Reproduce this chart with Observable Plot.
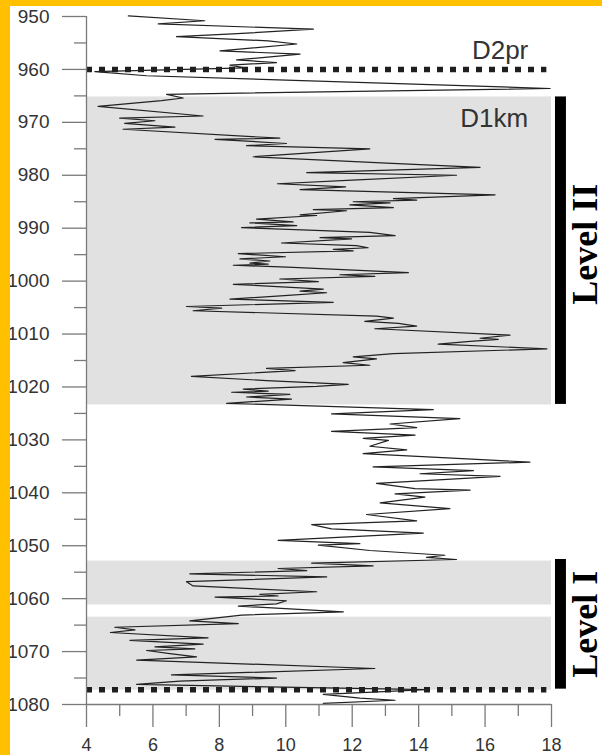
<!DOCTYPE html>
<html>
<head>
<meta charset="utf-8">
<script src="https://cdn.jsdelivr.net/npm/d3@7"></script>
<script src="https://cdn.jsdelivr.net/npm/@observablehq/plot@0.6"></script>
<style>
  html, body { margin: 0; padding: 0; background: #FFC000; }
  #wrap { position: absolute; left: 10px; top: 6px; width: 592px; height: 749px; overflow: hidden; background: #fff; }
  #chart { position: absolute; left: -10px; top: -6px; width: 602px; height: 755px; }
</style>
</head>
<body>
<div id="wrap"><div id="chart"></div></div>
<script>
// Depth (m) and measured value along the log
const depth = [
  949.9, 950.8, 951.4, 952.4, 953.3, 953.8, 954.6, 955.2, 956.5, 957.1,
  958.2, 958.7, 959.2, 959.7, 960.4, 961.2, 963.6, 964.7, 965.4, 965.9,
  967.0, 968.8, 969.2, 969.7, 970.2, 970.9, 971.3, 973.0, 973.2, 974.0,
  974.4, 975.0, 976.5, 977.7, 978.5, 979.5, 980.0, 980.9, 981.6, 982.2,
  982.7, 983.7, 984.4, 984.7, 985.0, 985.2, 985.6, 986.1, 986.5, 986.7,
  987.5, 987.6, 988.3, 988.8, 989.0, 989.5, 989.9, 990.8, 991.4, 991.8,
  992.0, 992.8, 993.3, 993.7, 994.0, 994.3, 994.8, 995.4, 995.8, 996.2,
  996.6, 996.8, 997.0, 997.4, 998.4, 998.8, 999.1, 999.6, 1000.1, 1000.6,
  1001.5, 1001.9, 1002.2, 1002.7, 1003.4, 1004.0, 1004.8, 1005.1, 1005.6, 1006.6,
  1007.0, 1007.6, 1008.0, 1008.5, 1009.0, 1010.2, 1010.8, 1011.0, 1011.4, 1011.9,
  1012.8, 1013.7, 1014.3, 1014.7, 1015.4, 1015.9, 1016.5, 1016.9, 1018.0, 1018.8,
  1019.5, 1019.9, 1020.4, 1020.8, 1021.0, 1021.4, 1021.9, 1022.3, 1023.1, 1024.3,
  1025.1, 1026.0, 1027.0, 1027.7, 1028.4, 1029.1, 1029.7, 1030.1, 1031.2, 1031.9,
  1032.6, 1033.6, 1034.2, 1035.1, 1035.8, 1036.4, 1036.9, 1038.2, 1039.2, 1039.5,
  1040.2, 1040.8, 1041.9, 1043.0, 1044.1, 1045.3, 1046.0, 1046.8, 1047.6, 1049.0,
  1049.6, 1049.9, 1050.9, 1051.8, 1052.2, 1052.6, 1053.3, 1053.8, 1054.3, 1054.7,
  1055.3, 1055.9, 1056.8, 1057.6, 1058.7, 1059.2, 1059.5, 1059.7, 1060.4, 1061.0,
  1061.4, 1062.5, 1063.1, 1064.2, 1064.7, 1065.4, 1065.9, 1066.4, 1067.4, 1067.9,
  1068.6, 1069.1, 1069.5, 1069.8, 1070.4, 1071.0, 1071.6, 1073.2, 1074.4, 1075.0,
  1075.6, 1076.2, 1077.2, 1078.1, 1078.8, 1079.2, 1079.8
];
const value = [
  5.26, 7.56, 6.16, 10.83, 8.4, 6.71, 9.47, 10.33, 8.02, 10.43,
  8.52, 9.72, 8.32, 8.77, 4.25, 5.81, 17.96, 6.41, 6.91, 6.26,
  4.35, 7.51, 5.0, 6.06, 5.15, 6.66, 5.1, 9.82, 7.87, 10.02,
  8.82, 12.53, 9.02, 13.04, 15.85, 10.63, 15.14, 12.0, 9.75, 11.8,
  10.43, 16.30, 13.24, 13.94, 12.03, 13.14, 11.93, 13.24, 10.83, 11.83,
  10.43, 10.93, 9.12, 10.22, 8.92, 10.33, 8.67, 12.53, 13.29, 11.03,
  11.98, 9.87, 12.13, 12.48, 11.43, 12.03, 8.57, 9.99, 8.62, 9.52,
  8.92, 9.47, 8.42, 10.22, 13.69, 11.63, 12.68, 9.82, 10.98, 8.42,
  11.13, 10.43, 11.23, 10.07, 8.32, 11.43, 7.01, 8.07, 7.21, 12.73,
  13.24, 12.38, 13.39, 13.94, 12.68, 16.75, 15.85, 16.40, 15.55, 14.59,
  17.86, 13.24, 12.03, 12.73, 11.73, 12.53, 9.42, 10.28, 7.16, 9.42,
  11.88, 10.93, 8.72, 9.47, 8.37, 10.12, 8.82, 10.17, 8.22, 14.44,
  11.38, 15.24, 13.14, 13.94, 11.38, 13.89, 12.33, 13.09, 12.53, 13.64,
  12.33, 15.45, 17.35, 12.63, 15.65, 14.04, 16.45, 12.73, 13.89, 15.55,
  13.29, 14.19, 12.84, 14.94, 12.43, 13.94, 10.78, 11.38, 14.14, 9.77,
  12.23, 10.98, 12.53, 14.79, 14.24, 15.14, 10.78, 12.63, 9.77, 10.63,
  7.11, 11.23, 7.01, 7.21, 10.93, 9.22, 9.77, 7.87, 10.02, 9.72,
  8.57, 11.73, 8.67, 7.11, 8.57, 4.85, 5.46, 4.72, 7.66, 5.31,
  7.51, 6.06, 7.26, 5.81, 6.51, 7.31, 5.51, 12.68, 6.56, 9.72,
  6.81, 5.51, 14.24, 11.13, 12.23, 13.29, 11.13
];

// Axis ticks
const yMajorTicks = [950, 960, 970, 980, 990, 1000, 1010, 1020, 1030, 1040, 1050, 1060, 1070, 1080];
const yMinorTicks = [955, 965, 975, 985, 995, 1005, 1015, 1025, 1035, 1045, 1055, 1065, 1075];
const xMajorTicks = [4, 6, 8, 10, 12, 14, 16, 18];
const xMinorTicks = [5, 7, 9, 11, 13, 15, 17];

// Shaded intervals (depth)
const bandTop = [965.2, 1052.9, 1063.5];
const bandBottom = [1023.4, 1061.2, 1077.3];

// Formation boundaries (dotted lines)
const boundaryDepths = [960, 1077.2];

// Formation names
const formationNames = ["D2pr", "D1km"];
const formationDepths = [958.0, 970.8];

// Levels
const levelNames = ["Level II", "Level I"];
const levelTop = [965.2, 1052.6];
const levelBottom = [1023.3, 1077.1];

const xMin = 4, xMax = 18;
const yMin = 950, yMax = 1080;

const rows = depth.map((d, i) => ({d, v: value[i]}));
const bands = bandTop.map((t, i) => ({t, b: bandBottom[i]}));
const levels = levelNames.map((n, i) => ({n, t: levelTop[i], b: levelBottom[i], c: (levelTop[i] + levelBottom[i]) / 2 - (i === 0 ? 1.2 : 0)}));
const formations = formationNames.map((n, i) => ({n, d: formationDepths[i]}));

const axisColor = "#7a7a7a";
const textColor = "#333";

const chart = Plot.plot({
  width: 602,
  height: 755,
  marginLeft: 86,
  marginRight: 51,
  marginTop: 16,
  marginBottom: 51,
  style: {background: "transparent", fontFamily: "'Liberation Sans', Arial, sans-serif", maxWidth: "none"},
  x: {domain: [xMin, xMax], axis: null},
  y: {domain: [yMin, yMax], reverse: true, axis: null},
  marks: [
    Plot.rect(bands, {x1: xMin, x2: xMax, y1: "t", y2: "b", fill: "#e1e1e1"}),
    Plot.ruleY(boundaryDepths, {x1: xMin, x2: 17.86, stroke: "#1e1e1e", strokeWidth: 5.5, strokeDasharray: "6,7"}),
    Plot.line(rows, {x: "v", y: "d", stroke: "#222", strokeWidth: 1.2}),
    Plot.ruleX([xMin], {y1: yMin, y2: yMax, stroke: axisColor, strokeWidth: 1.3}),
    Plot.ruleY([yMax], {x1: xMin, x2: xMax, stroke: axisColor, strokeWidth: 1.3}),
    Plot.axisY({ticks: yMajorTicks, tickSize: 24, tickPadding: 13, tickFormat: "d", fontSize: 19, stroke: axisColor, strokeWidth: 1.3, fill: textColor, label: null}),
    Plot.axisY({ticks: yMinorTicks, tickSize: 12, text: null, stroke: axisColor, strokeWidth: 1.3, label: null}),
    Plot.axisX({ticks: xMajorTicks, tickSize: 23, tickPadding: 11, tickFormat: "d", fontSize: 18, stroke: axisColor, strokeWidth: 1.3, fill: textColor, label: null}),
    Plot.axisX({ticks: xMinorTicks, tickSize: 12, text: null, stroke: axisColor, strokeWidth: 1.3, label: null}),
    Plot.rect(levels, {x1: 18.12, x2: 18.45, y1: "t", y2: "b", fill: "#000"}),
    Plot.text(levels, {x: 19.36, y: "c", text: "n", rotate: -90, textAnchor: "middle", lineAnchor: "bottom", fontSize: 36, fontWeight: "bold", fontFamily: "'Liberation Serif', 'Times New Roman', serif", fill: "#000"}),
    Plot.text(formations, {x: 17.3, y: "d", text: "n", textAnchor: "end", lineAnchor: "bottom", fontSize: 26, fill: textColor})
  ]
});
document.getElementById("chart").appendChild(chart);
</script>
</body>
</html>
